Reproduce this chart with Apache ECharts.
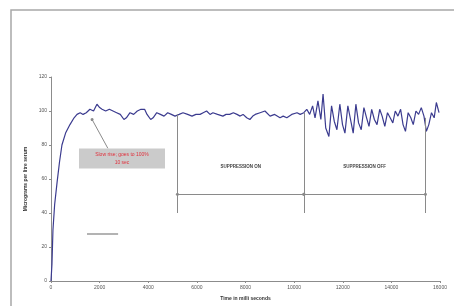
<!DOCTYPE html>
<html>
<head>
<meta charset="utf-8">
<script src="https://cdn.jsdelivr.net/npm/echarts@6/dist/echarts.min.js"></script>
<style>
  html, body { margin: 0; padding: 0; background: #fff; }
  #chart { width: 454px; height: 306px; }
</style>
</head>
<body>
<div id="chart"></div>
<script>
// time (ms) and serum level
var times = [0, 40, 80, 150, 250, 350, 450, 600, 780, 950, 1070, 1200, 1320, 1450, 1600, 1750, 1890, 2000, 2100, 2250, 2400, 2550, 2700, 2850, 3000, 3100, 3250, 3400, 3550, 3700, 3850, 3950, 4100, 4200, 4350, 4500, 4650, 4800, 4950, 5100, 5270, 5430, 5620, 5800, 5960, 6130, 6260, 6400, 6540, 6660, 6850, 7070, 7200, 7350, 7500, 7650, 7780, 7900, 8050, 8180, 8300, 8400, 8600, 8800, 9010, 9200, 9420, 9550, 9700, 9900, 10120, 10250,
  10400, 10520, 10640, 10760, 10860, 10980, 11100, 11190, 11300, 11430, 11540, 11650, 11760, 11880, 11990, 12090, 12210, 12320, 12430, 12540, 12650, 12760, 12870, 12980, 13080, 13190, 13300, 13410, 13520, 13620, 13730, 13840, 13950, 14060, 14160, 14270, 14380, 14480, 14580, 14690, 14800, 14900, 15010, 15120, 15230, 15340, 15440, 15540, 15650, 15760, 15850, 15960];
var levels = [0, 10, 30, 45, 58, 70, 80, 87, 92, 96, 98, 99, 98, 99, 101, 100, 104, 102, 101, 100, 101, 100, 99, 98, 95, 96, 99, 98, 100, 101, 101, 98, 95, 96, 99, 98, 97, 99, 98, 97, 98, 99, 98, 97, 98, 98, 99, 100, 98, 99, 98, 97, 98, 98, 99, 98, 97, 98, 96, 95, 97, 98, 99, 100, 97, 98, 96, 97, 96, 98, 99, 98,
  99, 101, 98, 103, 96, 106, 95, 110, 90, 85, 103, 94, 89, 104, 92, 87, 103, 95, 87, 104, 93, 89, 102, 96, 91, 101, 95, 92, 101, 97, 91, 99, 96, 93, 100, 97, 101, 92, 88, 99, 96, 92, 100, 98, 102, 97, 88, 92, 99, 96, 105, 99];

var xTicks = [0, 16000, 2000];
var yTicks = [0, 120, 20];
var phaseBounds = [5200, 10400, 15400];
var phaseNames = ['SUPPRESSION ON', 'SUPPRESSION OFF'];
var noteText = ['Slow rise; goes to 100%', '10 sec'];

var series = times.map(function (t, i) { return [t, levels[i]]; });

var chart = echarts.init(document.getElementById('chart'));
var thin = { color: '#8a8a8a', width: 1, type: 'solid' };
var dot = { symbol: 'circle', symbolSize: 3 };

chart.setOption({
  animation: false,
  grid: { left: 51, right: 14, top: 77, bottom: 25 },
  graphic: [{
    type: 'rect', shape: { x: 11, y: 10, width: 460, height: 310 },
    style: { fill: 'none', stroke: '#a8a8a8', lineWidth: 1.5 }
  }],
  xAxis: {
    type: 'value', min: xTicks[0], max: xTicks[1], interval: xTicks[2],
    name: 'Time in milli seconds', nameLocation: 'middle', nameGap: 15,
    nameTextStyle: { fontSize: 5, color: '#333', fontWeight: 'bold' },
    axisLine: { lineStyle: { color: '#8c8c8c' } },
    axisTick: { show: true, length: 2, lineStyle: { color: '#8c8c8c' } },
    axisLabel: { fontSize: 5, color: '#555', margin: 4, formatter: function (v) { return String(v); } },
    splitLine: { show: false }
  },
  yAxis: {
    type: 'value', min: yTicks[0], max: yTicks[1], interval: yTicks[2],
    name: 'Micrograms per litre serum', nameLocation: 'middle', nameGap: 20, nameRotate: 90,
    nameTextStyle: { fontSize: 5, color: '#333', fontWeight: 'bold' },
    axisLine: { show: true, lineStyle: { color: '#8c8c8c' } },
    axisTick: { show: true, length: 2, lineStyle: { color: '#8c8c8c' } },
    axisLabel: { fontSize: 5, color: '#555', margin: 4 },
    splitLine: { show: false }
  },
  series: [{
    type: 'line', data: series, showSymbol: false,
    lineStyle: { color: '#3b3b8f', width: 1.2 },
    itemStyle: { color: '#3b3b8f' },
    markLine: {
      silent: true, symbol: ['none', 'none'], label: { show: false }, lineStyle: thin,
      data: [
        [{ coord: [phaseBounds[0], 40] }, { coord: [phaseBounds[0], 98] }],
        [{ coord: [phaseBounds[1], 40] }, { coord: [phaseBounds[1], 99] }],
        [{ coord: [phaseBounds[2], 40] }, { coord: [phaseBounds[2], 96] }],
        [Object.assign({ coord: [phaseBounds[0], 51] }, dot), Object.assign({ coord: [phaseBounds[1], 51] }, dot)],
        [Object.assign({ coord: [phaseBounds[1], 51] }, dot), Object.assign({ coord: [phaseBounds[2], 51] }, dot)],
        [Object.assign({ coord: [1690, 95] }, dot), { coord: [2340, 78] }],
        [{ coord: [1480, 28], lineStyle: { color: '#9a9a9a', width: 1.5 } }, { coord: [2760, 28] }]
      ]
    },
    markPoint: {
      silent: true, symbol: 'rect', symbolSize: 0,
      data: [
        { coord: [(phaseBounds[0] + phaseBounds[1]) / 2, 67],
          label: { show: true, formatter: phaseNames[0], fontSize: 4.5, color: '#444', fontWeight: 'bold' } },
        { coord: [(phaseBounds[1] + phaseBounds[2]) / 2, 67],
          label: { show: true, formatter: phaseNames[1], fontSize: 4.5, color: '#444', fontWeight: 'bold' } },
        { coord: [2920, 72],
          label: { show: true, formatter: noteText.join('\n'), fontSize: 5, lineHeight: 8, color: '#e0303c',
            backgroundColor: '#cbcbcb', padding: [2, 6], width: 74, align: 'center' } }
      ]
    }
  }]
});
</script>
</body>
</html>
